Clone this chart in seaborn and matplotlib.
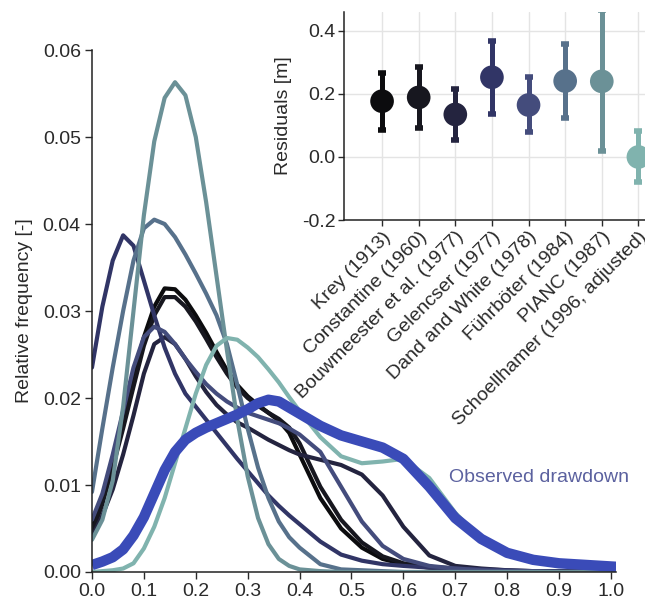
import numpy as np
import pandas as pd
import matplotlib
matplotlib.use("Agg")
import matplotlib.pyplot as plt
import seaborn as sns

# ---------------- data ----------------
models = ["Krey (1913)", "Constantine (1960)", "Bouwmeester et al. (1977)",
          "Gelencser (1977)", "Dand and White (1978)", "Führböter (1984)",
          "PIANC (1987)", "Schoellhamer (1996, adjusted)"]
colors = ["#0c0c0e", "#17171f", "#24243f", "#313566", "#444c7c",
          "#57718b", "#6b9197", "#80b3ae"]

x_grid = [0.00, 0.02, 0.04, 0.06, 0.08, 0.10, 0.12, 0.14, 0.16, 0.18, 0.20,
          0.22, 0.24, 0.26, 0.28, 0.30, 0.32, 0.34, 0.36, 0.38, 0.40,
          0.44, 0.48, 0.52, 0.56, 0.60,
          0.65, 0.70, 0.75, 0.80, 0.85, 0.90, 1.01]

krey = [0.0050, 0.0085, 0.0130, 0.0175, 0.0225, 0.0270, 0.0305, 0.0326, 0.0325,
        0.0313, 0.0295, 0.0275, 0.0253, 0.0232, 0.0215, 0.0202, 0.0192, 0.0183,
        0.0174, 0.0160, 0.0135,
        0.0085, 0.0050, 0.0028, 0.0015, 0.0009,
        0.0005, 0.0003, 0.0002, 0.0001, 0.0001, 0.0000, 0.0000]
constantine = [0.0045, 0.0078, 0.0120, 0.0165, 0.0213, 0.0260, 0.0295, 0.0316,
               0.0316, 0.0305, 0.0288, 0.0268, 0.0247, 0.0228, 0.0212, 0.0200,
               0.0191, 0.0183, 0.0176, 0.0166, 0.0148,
               0.0098, 0.0060, 0.0034, 0.0018, 0.0010,
               0.0006, 0.0004, 0.0002, 0.0001, 0.0001, 0.0000, 0.0000]
bouwmeester = [0.0040, 0.0065, 0.0095, 0.0135, 0.0180, 0.0228, 0.0262, 0.0270,
               0.0262, 0.0245, 0.0225, 0.0207, 0.0192, 0.0181, 0.0172, 0.0166,
               0.0159, 0.0152, 0.0146, 0.0140, 0.0135,
               0.0129, 0.0123, 0.0112, 0.0088, 0.0052,
               0.0019, 0.0007, 0.0004, 0.0002, 0.0001, 0.0001, 0.0000]
gelencser = [0.0235, 0.0305, 0.0358, 0.0387, 0.0375, 0.0335, 0.0295, 0.0258,
             0.0228, 0.0205, 0.0190, 0.0175, 0.0160, 0.0145, 0.0130, 0.0116,
             0.0102, 0.0088, 0.0076, 0.0065, 0.0055,
             0.0035, 0.0020, 0.0013, 0.0009, 0.0007,
             0.0005, 0.0004, 0.0003, 0.0002, 0.0001, 0.0001, 0.0000]
dand = [0.0060, 0.0090, 0.0135, 0.0185, 0.0235, 0.0270, 0.0282, 0.0276, 0.0262,
        0.0245, 0.0230, 0.0216, 0.0205, 0.0196, 0.0189, 0.0183, 0.0179, 0.0175,
        0.0171, 0.0165, 0.0158,
        0.0138, 0.0098, 0.0058, 0.0030, 0.0015,
        0.0007, 0.0004, 0.0002, 0.0001, 0.0001, 0.0000, 0.0000]
fuehrboeter = [0.0092, 0.0165, 0.0235, 0.0300, 0.0358, 0.0395, 0.0405, 0.0400,
               0.0385, 0.0365, 0.0343, 0.0320, 0.0295, 0.0262, 0.0215, 0.0165,
               0.0120, 0.0085, 0.0058, 0.0040, 0.0028,
               0.0009, 0.0003, 0.0002, 0.0001, 0.0000,
               0.0000, 0.0000, 0.0000, 0.0000, 0.0000, 0.0000, 0.0000]
pianc = [0.0037, 0.0060, 0.0105, 0.0190, 0.0300, 0.0410, 0.0495, 0.0545, 0.0563,
         0.0548, 0.0500, 0.0425, 0.0340, 0.0255, 0.0175, 0.0110, 0.0062, 0.0032,
         0.0015, 0.0007, 0.0003,
         0.0001, 0.0000, 0.0000, 0.0000, 0.0000,
         0.0000, 0.0000, 0.0000, 0.0000, 0.0000, 0.0000, 0.0000]
schoellhamer = [0.0000, 0.0001, 0.0002, 0.0004, 0.0010, 0.0027, 0.0052, 0.0085,
                0.0125, 0.0165, 0.0205, 0.0238, 0.0260, 0.0269, 0.0267, 0.0258,
                0.0247, 0.0233, 0.0218, 0.0201, 0.0185,
                0.0155, 0.0133, 0.0125, 0.0127, 0.0130,
                0.0108, 0.0068, 0.0038, 0.0022, 0.0014, 0.0010, 0.0006]
observed = [0.0008, 0.0012, 0.0017, 0.0026, 0.0042, 0.0063, 0.0090, 0.0117,
            0.0138, 0.0152, 0.0160, 0.0166, 0.0171, 0.0176, 0.0181, 0.0187,
            0.0194, 0.0198, 0.0196, 0.0189, 0.0182,
            0.0168, 0.0157, 0.0150, 0.0143, 0.0130,
            0.0098, 0.0062, 0.0038, 0.0022, 0.0014, 0.0010, 0.0006]

curves = [krey, constantine, bouwmeester, gelencser, dand, fuehrboeter, pianc,
          schoellhamer]
for c in curves + [observed]:
    assert len(c) == len(x_grid)

resid_mean = [0.177, 0.189, 0.135, 0.253, 0.165, 0.241, 0.240, 0.000]
resid_low = [0.086, 0.093, 0.055, 0.135, 0.079, 0.123, 0.019, -0.079]
resid_high = [0.268, 0.286, 0.215, 0.368, 0.255, 0.360, 0.465, 0.084]

x_ticks = [0.0, 0.1, 0.2, 0.3, 0.4, 0.5, 0.6, 0.7, 0.8, 0.9, 1.0]
y_ticks = [0.00, 0.01, 0.02, 0.03, 0.04, 0.05, 0.06]
inset_y_ticks = [-0.2, 0.0, 0.2, 0.4]

# ---------------- style ----------------
sns.set_style("white")
plt.rcParams["font.family"] = ["Liberation Sans", "DejaVu Sans"]
plt.rcParams["axes.unicode_minus"] = False
txt = "#2a2a2a"
FS = 14

fig = plt.figure(figsize=(6.45, 6.10), dpi=100)

# ---------------- main axes ----------------
ax = fig.add_axes([0.1426, 0.0623, 0.8127, 0.8557])
rows = []
for m, ys in zip(models, curves):
    for xv, yv in zip(x_grid, ys):
        rows.append((m, xv, yv))
df = pd.DataFrame(rows, columns=["model", "x", "y"])
sns.lineplot(data=df, x="x", y="y", hue="model", hue_order=models,
             palette=dict(zip(models, colors)), estimator=None, sort=False,
             linewidth=3.0, legend=False, ax=ax,
             solid_joinstyle="round", solid_capstyle="round")
obs_df = pd.DataFrame({"x": x_grid, "y": observed})
sns.lineplot(data=obs_df, x="x", y="y", color="#3a4bb8", estimator=None,
             sort=False, linewidth=7.5, ax=ax, solid_joinstyle="round",
             solid_capstyle="butt")
ax.text(0.688, 0.0109, "Observed drawdown", color="#5b619f", fontsize=FS,
        ha="left", va="center")

ax.set_xlim(0, 1.01)
ax.set_ylim(0, 0.06)
ax.set_xticks(x_ticks)
ax.set_xticklabels([f"{v:.1f}" for v in x_ticks])
ax.set_yticks(y_ticks)
ax.set_yticklabels([f"{v:.2f}" for v in y_ticks])
ax.set_xlabel("")
ax.set_ylabel("Relative frequency [-]", fontsize=FS, color=txt, labelpad=7)
ax.tick_params(axis="both", labelsize=FS, colors=txt, length=5, width=1,
               direction="out", bottom=True, left=True, pad=3)
for s in ["top", "right"]:
    ax.spines[s].set_visible(False)
for s in ["left", "bottom"]:
    ax.spines[s].set_color("#222222")
    ax.spines[s].set_linewidth(1.1)

# ---------------- inset ----------------
ax2 = fig.add_axes([0.5333, 0.6393, 0.4667, 0.3410])
ax2.set_facecolor("white")
pos = list(range(len(models)))
for i in pos:
    ax2.errorbar(i, resid_mean[i],
                 yerr=[[resid_mean[i] - resid_low[i]], [resid_high[i] - resid_mean[i]]],
                 fmt="none", ecolor=colors[i], elinewidth=3.6, capsize=3.0,
                 capthick=4.0, zorder=3)
inset_df = pd.DataFrame({"pos": pos, "resid": resid_mean, "model": models})
sns.scatterplot(data=inset_df, x="pos", y="resid", hue="model", hue_order=models,
                palette=dict(zip(models, colors)), s=290, linewidth=0,
                legend=False, ax=ax2, zorder=4)
ax2.set_xlim(-1.04, 7.18)
ax2.set_ylim(-0.2, 0.46)
ax2.set_xticks(pos)
ax2.set_xticklabels(models)
ax2.set_yticks(inset_y_ticks)
ax2.set_yticklabels([f"{v:.1f}" for v in inset_y_ticks])
plt.setp(ax2.get_xticklabels(), rotation=45, ha="right", rotation_mode="anchor")
ax2.set_xlabel("")
ax2.set_ylabel("Residuals [m]", fontsize=FS, color=txt, labelpad=7)
ax2.grid(True, color="#e4e4e4", linewidth=1.0)
ax2.set_axisbelow(True)
ax2.tick_params(axis="both", labelsize=FS, colors=txt, length=4, width=1,
                direction="out", bottom=True, left=True, pad=2)
for s in ["top", "right"]:
    ax2.spines[s].set_visible(False)
for s in ["left", "bottom"]:
    ax2.spines[s].set_color("#222222")
    ax2.spines[s].set_linewidth(1.1)

fig.savefig("out.png", dpi=100, facecolor="white")
